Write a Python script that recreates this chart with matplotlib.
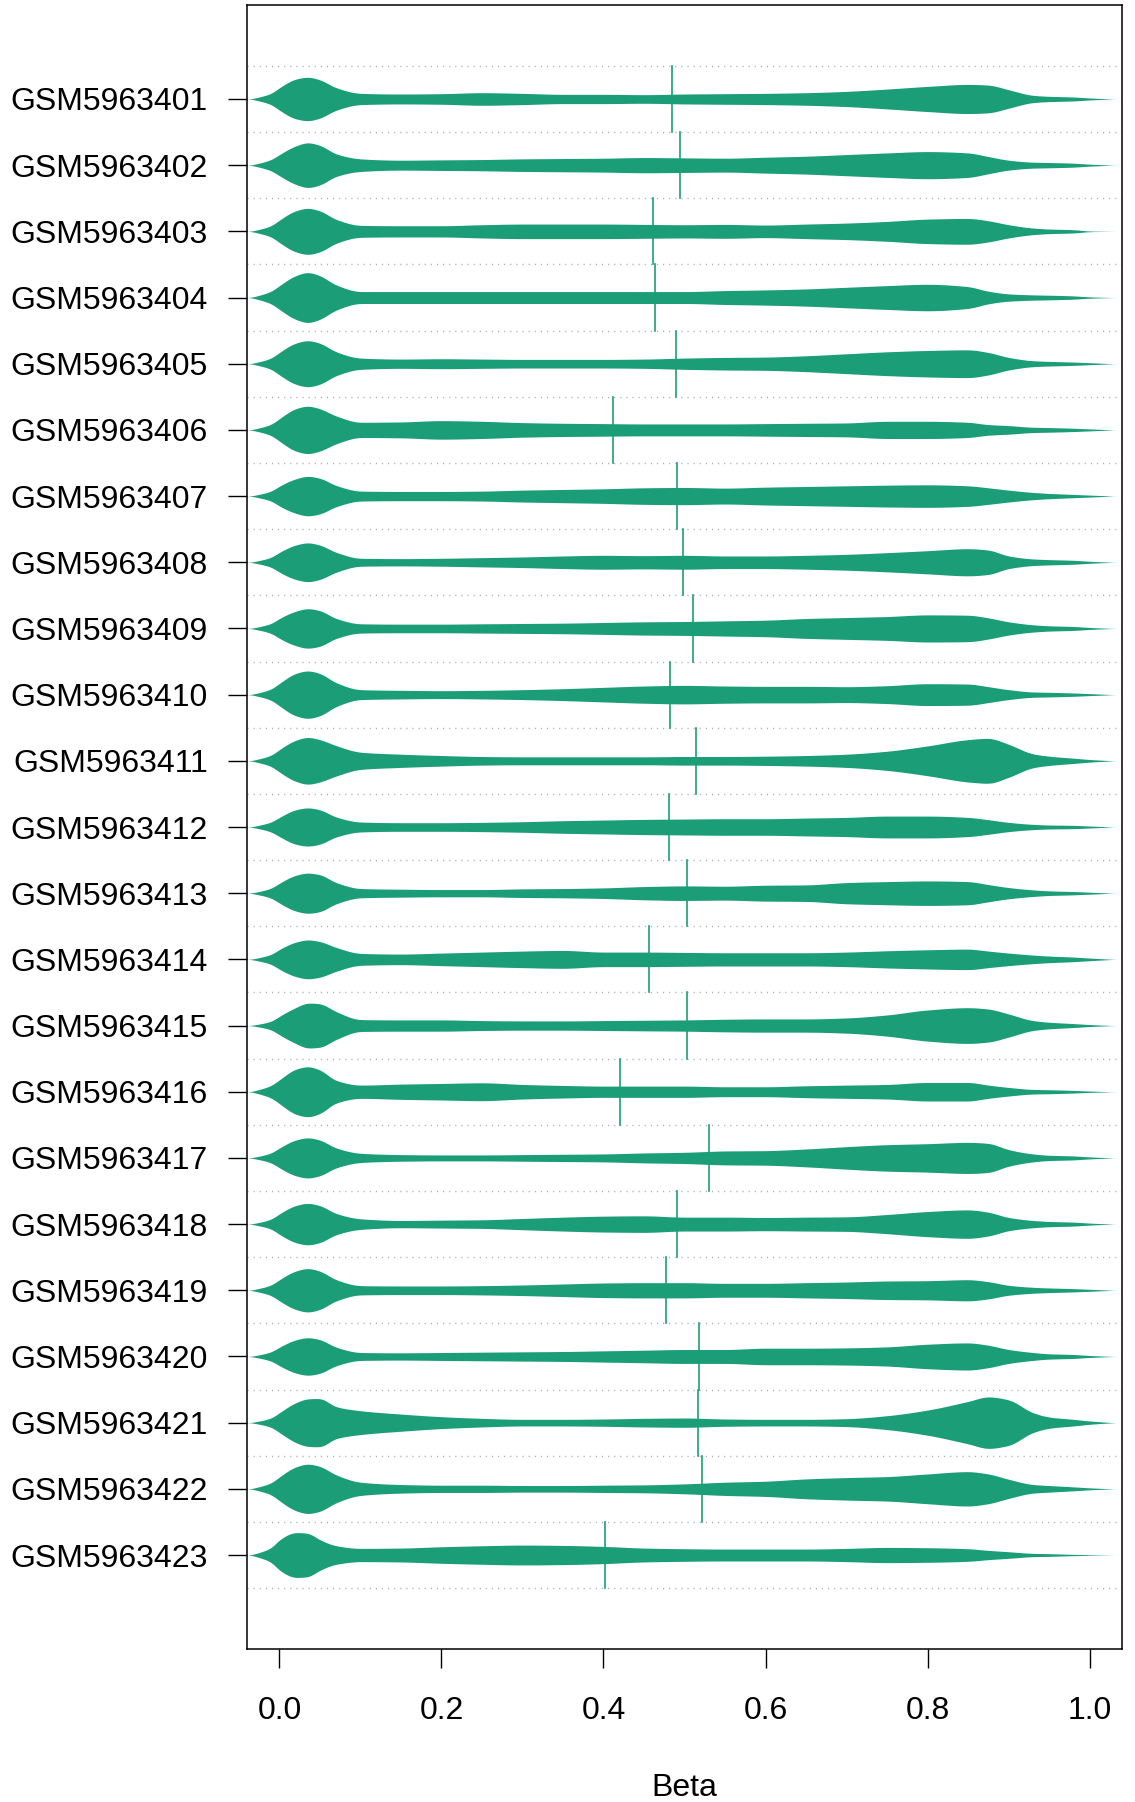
import numpy as np
import matplotlib
matplotlib.use("Agg")
import matplotlib.pyplot as plt

samples = ["GSM59634%02d" % i for i in range(1, 24)]

beta_grid = [-0.035, -0.01, 0.0, 0.02, 0.035, 0.05, 0.07, 0.1, 0.15, 0.2, 0.25, 0.3,
             0.35, 0.4, 0.45, 0.5, 0.55, 0.6, 0.65, 0.7, 0.75, 0.8, 0.85, 0.875,
             0.9, 0.93, 0.95, 0.98, 1.0, 1.03]

# density (half-width, relative units) per sample at beta_grid
dens01 = [0, 8.5, 17, 30, 33, 29, 17, 8.5, 7.5, 8, 9.5, 8.5, 7, 7, 6.5, 7.5, 8, 8.5, 9.5, 11.5, 15, 19, 22, 21, 14, 5.5, 4, 3, 1.5, 0]
dens02 = [0, 8.5, 16, 29, 34, 30, 17, 9.5, 7.5, 8, 8.5, 9.5, 10, 10.5, 11.5, 11, 10.5, 12, 13.5, 16, 18.5, 20.5, 18.5, 13, 7.5, 4.5, 4, 3, 1.5, 0]
dens03 = [0, 8.5, 17, 31, 35, 31, 18, 9, 8.5, 8.5, 10, 11, 11, 11, 10.5, 10, 10.5, 9.5, 11, 12.5, 15, 18.5, 19.5, 16, 10, 5, 3.5, 2.5, 0.5, 0]
dens04 = [0, 9.5, 18, 33, 38, 33, 19, 9, 9, 9, 9, 9, 9, 9, 9, 9, 10.5, 11.5, 13, 15.5, 18, 20, 16.5, 9.5, 5.5, 4, 3.5, 2.5, 1, 0]
dens05 = [0, 8.5, 17, 31, 35, 31, 18, 8.5, 7, 7.5, 7, 6.5, 6.5, 6.5, 7, 8.5, 9.5, 10, 12, 15, 18, 20, 21, 17, 9.5, 4.5, 3.5, 2.5, 1.5, 0]
dens06 = [0, 8.5, 17, 32, 36, 32, 21, 11.5, 12, 14, 13, 11, 10, 9.5, 9, 9, 9, 9.5, 10, 10.5, 13, 13, 11.5, 8, 6.5, 4, 3.5, 2.5, 1.5, 0]
dens07 = [0, 7.5, 15, 26, 30, 27, 16, 7.5, 7, 7, 7.5, 9, 10, 11, 12.5, 13, 12, 13.5, 14.5, 15.5, 16.5, 17, 15.5, 12.5, 9, 5.5, 4, 2.5, 1.5, 0]
dens08 = [0, 7.5, 15, 26, 29.5, 26, 15, 6, 5.5, 6, 7, 8, 9.5, 10.5, 10, 10.5, 9.5, 9.5, 10.5, 12, 14.5, 17.5, 20.5, 18.5, 9.5, 5, 4, 3, 1.5, 0]
dens09 = [0, 7.5, 15, 26, 30, 27, 15, 7, 6.5, 6.5, 7, 7.5, 8, 9, 10, 10.5, 11.5, 12.5, 15, 16.5, 18, 20.5, 20, 16, 10, 5.5, 4, 3, 1.5, 0]
dens10 = [0, 8.5, 17, 32, 36, 32, 18, 7.5, 6.5, 6, 6.5, 7.5, 9, 11, 13, 14, 13, 12.5, 12.5, 12, 13.5, 16.5, 16, 12, 7.5, 4, 3.5, 2.5, 1.5, 0]
dens11 = [0, 8.5, 17, 31, 35.5, 32, 23, 13, 10, 8, 6.5, 6, 6, 6, 6, 6.5, 6.5, 7, 8, 10, 14.5, 22.5, 32, 34, 25, 10.5, 7, 4, 2, 0]
dens12 = [0, 7.5, 14.5, 26, 29, 26, 15, 7.5, 6.5, 6.5, 7, 8, 9.5, 10.5, 11.5, 12, 12.5, 12.5, 13.5, 14.5, 16.5, 16.5, 14.5, 11, 7, 4, 3, 2.5, 1.5, 0]
dens13 = [0, 7.5, 15, 27, 30.5, 28, 16, 7, 6, 5.5, 5.5, 6.5, 7, 8, 10, 11, 10.5, 12, 12.5, 16, 17.5, 18.5, 17.5, 13, 8.5, 5, 3.5, 2.5, 1.5, 0]
dens14 = [0, 7.5, 15, 26, 29.5, 27, 18, 9, 8, 9.5, 11, 12.5, 13.5, 11, 11, 10.5, 10, 10, 10, 11, 13, 14.5, 15.5, 12.5, 9.5, 6.5, 5, 3.5, 2, 0]
dens15 = [0, 6.5, 14, 27, 34, 33, 21, 9, 8.5, 8.5, 7.5, 7, 7, 7.5, 8, 8.5, 9.5, 10, 10, 11.5, 16, 23.5, 27, 25, 17.5, 7.5, 5, 3, 1.5, 0]
dens16 = [0, 9.5, 18, 34, 38, 33, 17, 10, 11.5, 12.5, 13.5, 11, 9.5, 8.5, 8.5, 8.5, 7.5, 7.5, 9, 10, 11, 14, 14, 10, 6.5, 3.5, 3, 2, 1, 0]
dens17 = [0, 7.5, 15, 27, 30.5, 27, 15, 7, 5, 4.5, 4.5, 5, 5.5, 6, 7.5, 8.5, 10.5, 11, 13.5, 17, 20, 21.5, 23.5, 22, 12.5, 6, 4, 3, 1.5, 0]
dens18 = [0, 7.5, 15.5, 28, 31.5, 28, 16, 8, 5.5, 6, 6.5, 8.5, 10.5, 12, 12.5, 10.5, 10.5, 10, 10.5, 11, 14.5, 19, 21.5, 18, 10, 5.5, 4, 3, 1.5, 0]
dens19 = [0, 8, 16, 29, 33, 29, 16, 7, 6.5, 6.5, 7, 8, 9.5, 11, 11.5, 11.5, 10.5, 10.5, 11.5, 12.5, 14, 14.5, 16, 13, 7.5, 4.5, 3.5, 2.5, 1.5, 0]
dens20 = [0, 7, 14, 25, 28.5, 25.5, 14, 6, 5.5, 6, 6.5, 7, 7.5, 8.5, 9.5, 10.5, 10.5, 12.5, 12.5, 13, 14.5, 18.5, 20.5, 17, 10.5, 6, 4, 3, 1.5, 0]
dens21 = [0, 7, 15, 30, 36, 36.5, 24, 18, 13, 9, 6.5, 5, 5, 5.5, 6.5, 7, 5.5, 5, 5, 6, 10.5, 19, 32, 39, 34.5, 15, 8.5, 5, 2.5, 0]
dens22 = [0, 9, 18, 33, 37.5, 34, 21, 10, 6.5, 5.5, 5.5, 5, 5, 5.5, 6, 7.5, 10, 11.5, 15, 17, 18.5, 22.5, 26, 22.5, 14.5, 6.5, 5, 3, 1.5, 0]
dens23 = [0, 11, 23, 34, 33, 23, 14, 10, 10.5, 12.5, 14, 15, 14.5, 13, 10.5, 9.5, 9, 9, 9, 10, 11.5, 11, 9.5, 7, 5, 2.5, 2, 1, 0.5, 0]

densities = [dens01, dens02, dens03, dens04, dens05, dens06, dens07, dens08, dens09,
             dens10, dens11, dens12, dens13, dens14, dens15, dens16, dens17, dens18,
             dens19, dens20, dens21, dens22, dens23]

medians = [0.484, 0.494, 0.461, 0.463, 0.489, 0.412, 0.491, 0.498, 0.510, 0.482,
           0.514, 0.481, 0.503, 0.456, 0.503, 0.420, 0.530, 0.491, 0.477, 0.518,
           0.517, 0.522, 0.402]

xticks = [0.0, 0.2, 0.4, 0.6, 0.8, 1.0]
xticklabels = ["0.0", "0.2", "0.4", "0.6", "0.8", "1.0"]


def pchip(x, y, xn):
    """Shape-preserving cubic rendering through the read points."""
    x = np.asarray(x, float)
    y = np.asarray(y, float)
    h = np.diff(x)
    delta = np.diff(y) / h
    n = len(x)
    d = np.zeros(n)
    for k in range(1, n - 1):
        if delta[k - 1] * delta[k] <= 0:
            d[k] = 0.0
        else:
            w1 = 2 * h[k] + h[k - 1]
            w2 = h[k] + 2 * h[k - 1]
            d[k] = (w1 + w2) / (w1 / delta[k - 1] + w2 / delta[k])
    d[0] = delta[0]
    d[-1] = delta[-1]
    idx = np.clip(np.searchsorted(x, xn) - 1, 0, n - 2)
    t = (xn - x[idx]) / h[idx]
    h00 = 2 * t**3 - 3 * t**2 + 1
    h10 = t**3 - 2 * t**2 + t
    h01 = -2 * t**3 + 3 * t**2
    h11 = t**3 - t**2
    return h00 * y[idx] + h10 * h[idx] * d[idx] + h01 * y[idx + 1] + h11 * h[idx] * d[idx + 1]


def soften(v, sigma_pts):
    k = np.arange(-4 * sigma_pts, 4 * sigma_pts + 1)
    w = np.exp(-0.5 * (k / sigma_pts) ** 2)
    w /= w.sum()
    pad = len(k) // 2
    vp = np.pad(v, pad, mode="constant")
    return np.convolve(vp, w, mode="valid")


color = "#1B9E77"
font = ["Liberation Sans", "DejaVu Sans"]
plt.rcParams["font.family"] = font
fs = 23

fig = plt.figure(figsize=(11.35, 18.02), dpi=100)
ax = fig.add_axes([247 / 1135, 1 - 1649 / 1802, (1122 - 247) / 1135, (1649 - 5) / 1802])

n = len(samples)
scale = 0.01
xg = np.array(beta_grid)
xf = np.linspace(xg[0] - 0.01, xg[-1] + 0.01, 1200)
for i, (d, m) in enumerate(zip(densities, medians)):
    pos = i + 1
    raw = np.where((xf >= xg[0]) & (xf <= xg[-1]), pchip(xg, d, np.clip(xf, xg[0], xg[-1])), 0.0)
    hw = soften(np.clip(raw, 0, None), 4) * scale
    ax.fill_between(xf, pos - hw, pos + hw, color=color, linewidth=0, zorder=2)
    ax.plot([m, m], [pos - 0.5, pos + 0.5], color=color, lw=1.2, zorder=3)

for k in range(n + 1):
    ax.axhline(k + 0.5, color="#AAAAAA", lw=1.0, linestyle=(0, (0.8, 3.6)), zorder=1)

ax.set_xlim(-0.04, 1.04)
ax.set_ylim(n + 0.5 + 0.92, 0.5 - 0.92)
ax.set_yticks(range(1, n + 1))
ax.set_yticklabels(samples, fontsize=fs)
ax.set_xticks(xticks)
ax.set_xticklabels(xticklabels, fontsize=fs)
ax.tick_params(axis="both", direction="out", length=14, width=1.0, color="black")
ax.tick_params(axis="x", pad=20)
ax.tick_params(axis="y", pad=14)
for s in ax.spines.values():
    s.set_linewidth(1.1)
    s.set_color("black")

fig.text((247 + 1122) / 2 / 1135, 1 - 1787.5 / 1802, "Beta", ha="center", va="center", fontsize=fs)

fig.savefig("out.png", dpi=100)
